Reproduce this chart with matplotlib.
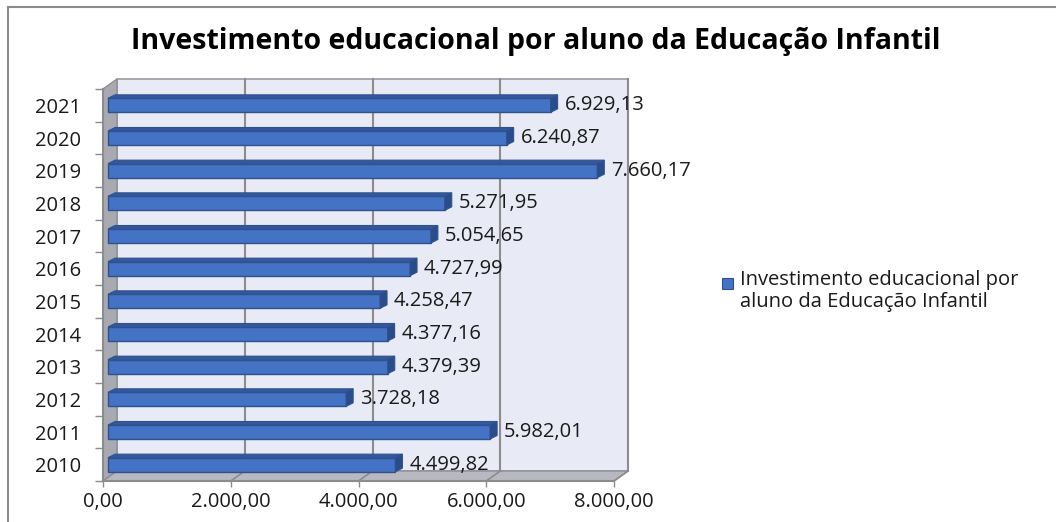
import matplotlib.pyplot as plt
from matplotlib.patches import Polygon, Rectangle
from matplotlib.lines import Line2D

# ----------------------------------------
# Dados
# ----------------------------------------
anos = ["2010", "2011", "2012", "2013", "2014", "2015",
        "2016", "2017", "2018", "2019", "2020", "2021"]
valores = [4499.82, 5982.01, 3728.18, 4379.39, 4377.16, 4258.47,
           4727.99, 5054.65, 5271.95, 7660.17, 6240.87, 6929.13]
ticks_x = [0, 2000, 4000, 6000, 8000]
titulo = "Investimento educacional por aluno da Educação Infantil"
legenda = "Investimento educacional por\naluno da Educação Infantil"

FONTE = ["Open Sans", "DejaVu Sans"]
plt.rcParams["font.family"] = FONTE
FS = 14.5


def br(v: float) -> str:
    """Formato numérico brasileiro: 1.234,56"""
    s = f"{v:,.2f}"
    return s.replace(",", "X").replace(".", ",").replace("X", ".")


W, H = 1056, 522
fig = plt.figure(figsize=(W / 100, H / 100), dpi=100)

# área frontal do gráfico em pixels
x0_px, x1_px = 103, 614
ybot_px, ytop_px = 481, 89
ax = fig.add_axes([x0_px / W, (H - ybot_px) / H,
                   (x1_px - x0_px) / W, (ybot_px - ytop_px) / H])
ax.set_xlim(0, 8000)
ax.set_ylim(-0.5, len(anos) - 0.5)

px_x = (x1_px - x0_px) / 8000          # pixels por unidade x
px_y = (ybot_px - ytop_px) / len(anos)  # pixels por categoria

# profundidade das paredes
dx = 14 / px_x
dy = 10 / px_y
y_lo, y_hi = -0.5, len(anos) - 0.5

# parede de fundo
ax.add_patch(Polygon([(dx, y_lo + dy), (8000 + dx, y_lo + dy),
                      (8000 + dx, y_hi + dy), (dx, y_hi + dy)],
                     closed=True, facecolor="#E8EAF6", edgecolor="#9A9AA2",
                     lw=1.2, clip_on=False, zorder=1))
# parede lateral esquerda
ax.add_patch(Polygon([(0, y_lo), (dx, y_lo + dy), (dx, y_hi + dy), (0, y_hi)],
                     closed=True, facecolor="#A9A9B1", edgecolor="#8E8E96",
                     lw=1.0, clip_on=False, zorder=1))
# piso
ax.add_patch(Polygon([(0, y_lo), (8000, y_lo), (8000 + dx, y_lo + dy),
                      (dx, y_lo + dy)],
                     closed=True, facecolor="#B7B8C0", edgecolor="#8E8E96",
                     lw=1.0, clip_on=False, zorder=1))

# linhas de grade
for t in ticks_x[1:]:
    ax.add_line(Line2D([t + dx, t + dx], [y_lo + dy, y_hi + dy],
                       color="#8C8C8C", lw=1.5, zorder=2, clip_on=False))
    ax.add_line(Line2D([t, t + dx], [y_lo, y_lo + dy],
                       color="#8C8C8C", lw=1.2, zorder=2, clip_on=False))

# eixos frontais
ax.add_line(Line2D([0, 8000], [y_lo, y_lo], color="#8C8C8C", lw=1.5,
                   zorder=2, clip_on=False))
ax.add_line(Line2D([0, 0], [y_lo, y_hi], color="#8C8C8C", lw=1.5,
                   zorder=2, clip_on=False))

# barras 3D
bx0 = 5 / px_x
bh = 14 / px_y
bdx = 7 / px_x
bdy = 3.5 / px_y
for i, v in enumerate(valores):
    bot, top = i - bh / 2, i + bh / 2
    ax.add_patch(Rectangle((bx0, bot), v, bh, facecolor="#4472C4",
                           edgecolor="#2F528F", lw=1.0, zorder=3,
                           clip_on=False))
    ax.add_patch(Polygon([(bx0, top), (bx0 + v, top),
                          (bx0 + v + bdx, top + bdy), (bx0 + bdx, top + bdy)],
                         closed=True, facecolor="#33589E",
                         edgecolor="#2F528F", lw=0.8, zorder=3, clip_on=False))
    ax.add_patch(Polygon([(bx0 + v, bot), (bx0 + v + bdx, bot + bdy),
                          (bx0 + v + bdx, top + bdy), (bx0 + v, top)],
                         closed=True, facecolor="#2B4C8A",
                         edgecolor="#2F528F", lw=0.8, zorder=3, clip_on=False))
    ax.text(bx0 + v + bdx + 7 / px_x, i, br(v), ha="left", va="center",
            fontsize=FS, color="#1A1A1A", zorder=4)

# eixos / rótulos
for s in ax.spines.values():
    s.set_visible(False)
ax.set_facecolor("none")
ax.set_yticks(range(len(anos)))
ax.set_yticklabels(anos, fontsize=FS, color="#1A1A1A")
ax.tick_params(axis="y", length=0, pad=16)
ax.set_yticks([k - 0.5 for k in range(len(anos) + 1)], minor=True)
ax.tick_params(axis="y", which="minor", length=6, width=1, color="#8C8C8C")
ax.set_xticks(ticks_x)
ax.set_xticklabels([br(t) for t in ticks_x], fontsize=FS, color="#1A1A1A")
ax.tick_params(axis="x", length=4, width=1, color="#8C8C8C", pad=4)

# título
fig.text(536 / W, 1 - 42 / H, titulo, ha="center", va="center",
         fontsize=20.5, fontweight="bold", color="#000000")

# legenda
fig.patches.append(Rectangle((722 / W, 1 - 289 / H), 11 / W, 11 / H,
                             transform=fig.transFigure, facecolor="#4472C4",
                             edgecolor="#2F528F", lw=0.8))
fig.text(740 / W, 1 - 270 / H, legenda, ha="left", va="top",
         fontsize=FS, color="#1A1A1A", linespacing=1.1)

# moldura
fig.add_artist(Line2D([8 / W, 1], [1 - 7 / H, 1 - 7 / H],
                      transform=fig.transFigure, color="#8C8C8C", lw=1.5))
fig.add_artist(Line2D([8 / W, 8 / W], [0, 1 - 7 / H],
                      transform=fig.transFigure, color="#8C8C8C", lw=1.5))

fig.savefig("out.png", dpi=100)
